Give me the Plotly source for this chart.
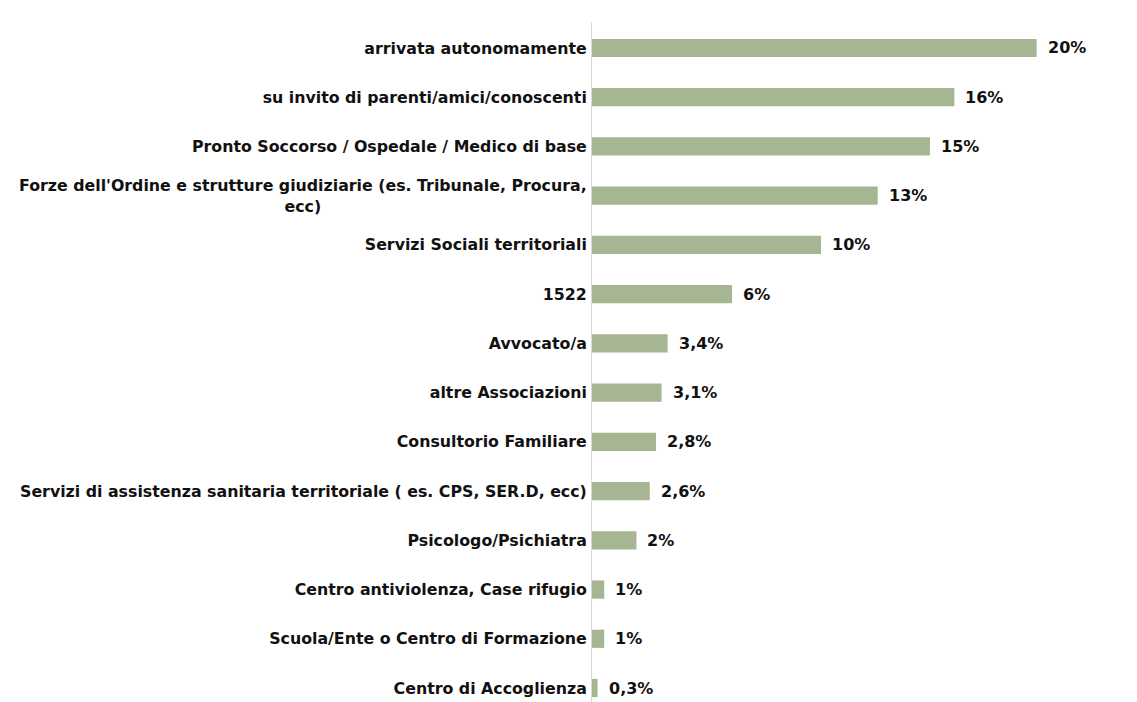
import plotly.graph_objects as go

categories = [
    "arrivata autonomamente",
    "su invito di parenti/amici/conoscenti",
    "Pronto Soccorso / Ospedale / Medico di base",
    "Forze dell'Ordine e strutture giudiziarie (es. Tribunale, Procura,<br>ecc)",
    "Servizi Sociali territoriali",
    "1522",
    "Avvocato/a",
    "altre Associazioni",
    "Consultorio Familiare",
    "Servizi di assistenza sanitaria territoriale ( es. CPS, SER.D, ecc)",
    "Psicologo/Psichiatra",
    "Centro antiviolenza, Case rifugio",
    "Scuola/Ente o Centro di Formazione",
    "Centro di Accoglienza",
]
values = [20.0, 16.3, 15.2, 12.85, 10.3, 6.3, 3.4, 3.13, 2.88, 2.6, 2.0, 0.55, 0.55, 0.25]
value_labels = ["20%", "16%", "15%", "13%", "10%", "6%", "3,4%", "3,1%", "2,8%", "2,6%", "2%", "1%", "1%", "0,3%"]

FONT = "DejaVu Sans"
BAR_COLOR = "#a6b592"

idx = list(range(len(categories)))
ticktext = ["" if "<br>" in c else c for c in categories]

fig = go.Figure(
    go.Bar(
        x=values,
        y=idx,
        orientation="h",
        marker=dict(color=BAR_COLOR, line=dict(width=0)),
        width=0.37,
        hoverinfo="skip",
    )
)

annotations = []
for i, (v, t) in enumerate(zip(values, value_labels)):
    annotations.append(dict(
        x=v, y=i, xref="x", yref="y", text=t, showarrow=False,
        xanchor="left", yanchor="middle", xshift=9,
        font=dict(family=FONT, size=16, color="#111111", weight="bold"),
    ))
for i, c in enumerate(categories):
    if "<br>" in c:
        annotations.append(dict(
            x=0, y=i, xref="x", yref="y", text=c, showarrow=False,
            xanchor="right", yanchor="middle", xshift=-3, align="center",
            font=dict(family=FONT, size=15.8, color="#111111", weight="bold"),
        ))

fig.update_layout(
    width=1129, height=694,
    margin=dict(l=584, r=11, t=14, b=0),
    paper_bgcolor="white", plot_bgcolor="white",
    showlegend=False,
    annotations=annotations,
    xaxis=dict(range=[0, 24.02], showticklabels=False, showgrid=False,
               zeroline=False, showline=False, ticks=""),
    yaxis=dict(range=[13.284, -0.528], tickmode="array", tickvals=idx,
               ticktext=ticktext, showgrid=False, zeroline=False,
               showline=True, linecolor="#d9d9d9", linewidth=1, ticks="",
               ticklabelstandoff=1,
               tickfont=dict(family=FONT, size=15.8, color="#111111", weight="bold")),
)

fig.write_html("out.html")
